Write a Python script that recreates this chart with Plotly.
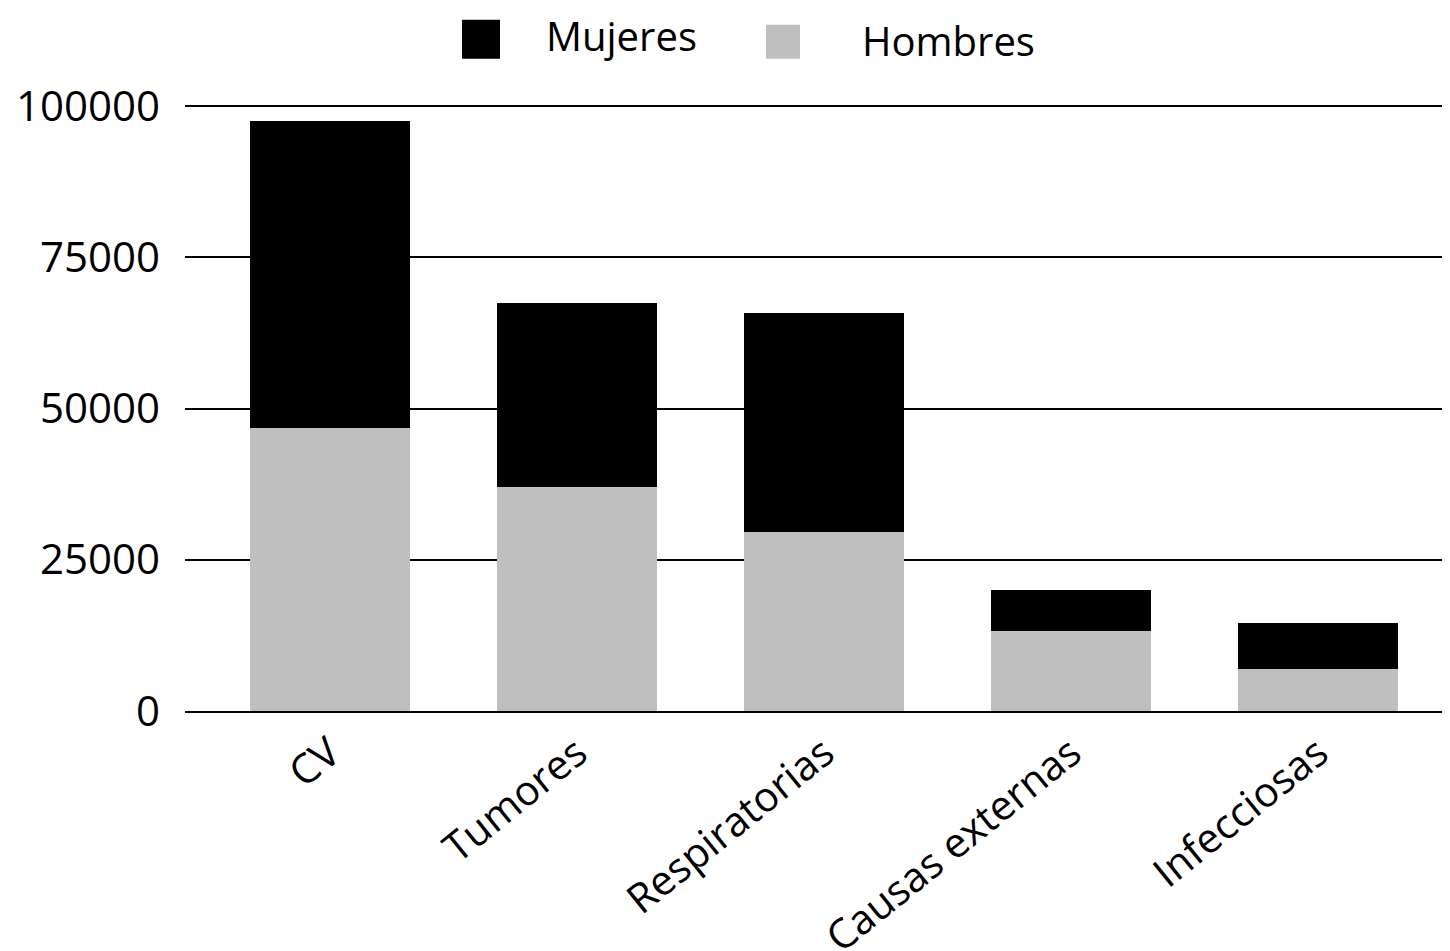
import plotly.graph_objects as go

categories = ["CV", "Tumores", "Respiratorias", "Causas externas", "Infecciosas"]
hombres = [46800, 37000, 29600, 13200, 6900]
mujeres = [50700, 30400, 36200, 6800, 7600]
y_ticks = [0, 25000, 50000, 75000, 100000]

# page body has an 8px margin; work in page coordinates and convert
OFF = 8
W, H = 1450 - OFF, 951 - OFF
L, R, T, B = 185 - OFF, 0, 106 - OFF, 951 - 711
FONT = "Open Sans"
PW, PH = W - L - R, H - T - B

fig = go.Figure()
fig.add_trace(go.Bar(x=categories, y=hombres, name="Hombres",
                     marker=dict(color="#BFBFBF", line=dict(width=0))))
fig.add_trace(go.Bar(x=categories, y=mujeres, name="Mujeres",
                     marker=dict(color="#000000", line=dict(width=0))))

fig.update_layout(
    width=W, height=H,
    margin=dict(l=L, r=R, t=T - 2, b=B, autoexpand=False),
    barmode="stack", bargap=0.35,
    plot_bgcolor="white", paper_bgcolor="white",
    showlegend=False,
    font=dict(family=FONT, size=42, color="black"),
    xaxis=dict(range=[-0.587, 4.534], tickangle=-39, showgrid=False,
               showline=True, linecolor="black", linewidth=1.5,
               ticks="", tickfont=dict(size=41), automargin=False),
    yaxis=dict(range=[0, 100330], tickvals=y_ticks,
               ticktext=[str(v) for v in y_ticks],
               showgrid=True, gridcolor="black", gridwidth=1.5,
               zeroline=False, showline=False, ticks="",
               ticklabelstandoff=24, tickfont=dict(size=42),
               automargin=False),
)

# Legend drawn manually (large square swatches); args in page pixels
def fx(x):
    return (x - OFF - L) / PW
def fy(y):
    return (H - B - (y - OFF)) / PH

fig.add_shape(type="rect", xref="paper", yref="paper",
              x0=fx(462), x1=fx(500), y0=fy(61), y1=fy(22),
              fillcolor="#000000", line=dict(width=0))
fig.add_shape(type="rect", xref="paper", yref="paper",
              x0=fx(766), x1=fx(800), y0=fy(61), y1=fy(27),
              fillcolor="#BFBFBF", line=dict(width=0))
fig.add_annotation(text="Mujeres", xref="paper", yref="paper",
                   x=fx(621), y=fy(8), showarrow=False,
                   xanchor="center", yanchor="top",
                   font=dict(family=FONT, size=40, color="black"))
fig.add_annotation(text="Hombres", xref="paper", yref="paper",
                   x=fx(949), y=fy(13), showarrow=False,
                   xanchor="center", yanchor="top",
                   font=dict(family=FONT, size=40, color="black"))

fig.write_html("out.html")
